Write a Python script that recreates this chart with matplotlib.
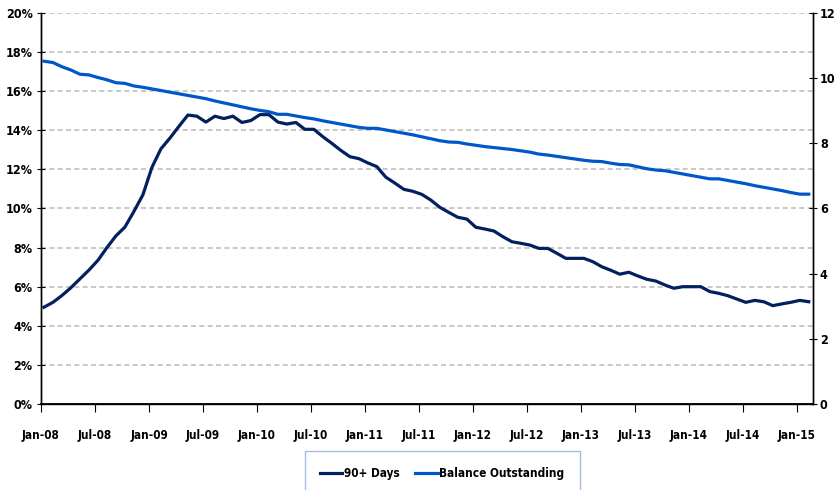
import matplotlib.pyplot as plt
from matplotlib.ticker import FuncFormatter

# monthly data, Jan-08 .. Feb-15
days90 = [4.95, 5.2, 5.55, 5.95, 6.4, 6.85, 7.35, 8.0, 8.6, 9.05, 9.85, 10.7,
          12.1, 13.05, 13.6, 14.2, 14.78, 14.72, 14.42, 14.72, 14.6, 14.72, 14.4, 14.5,
          14.8, 14.8, 14.42, 14.32, 14.4, 14.05, 14.05, 13.67, 13.33, 12.97, 12.65, 12.55,
          12.33, 12.14, 11.6, 11.3, 10.98, 10.88, 10.72, 10.43, 10.06, 9.8, 9.55, 9.46,
          9.04, 8.95, 8.85, 8.56, 8.3, 8.22, 8.13, 7.96, 7.96, 7.71, 7.45, 7.45,
          7.45, 7.28, 7.02, 6.84, 6.64, 6.74, 6.55, 6.38, 6.29, 6.09, 5.92, 6.0,
          6.0, 6.0, 5.75, 5.66, 5.54, 5.37, 5.2, 5.3, 5.23, 5.03, 5.12, 5.2,
          5.3, 5.23]
balance = [10.52, 10.48, 10.35, 10.25, 10.12, 10.1, 10.02, 9.95, 9.86, 9.84, 9.76, 9.72,
           9.67, 9.62, 9.57, 9.52, 9.47, 9.42, 9.37, 9.3, 9.24, 9.18, 9.12, 9.06,
           9.01, 8.97, 8.89, 8.89, 8.84, 8.79, 8.75, 8.69, 8.64, 8.59, 8.54, 8.49,
           8.46, 8.46, 8.41, 8.36, 8.31, 8.26, 8.2, 8.14, 8.08, 8.04, 8.03, 7.98,
           7.94, 7.9, 7.87, 7.84, 7.81, 7.77, 7.73, 7.67, 7.64, 7.6, 7.56, 7.52,
           7.48, 7.45, 7.44, 7.39, 7.35, 7.34, 7.28, 7.22, 7.18, 7.16, 7.11, 7.06,
           7.01, 6.96, 6.91, 6.91, 6.86, 6.81, 6.76, 6.7, 6.65, 6.6, 6.55, 6.49,
           6.44, 6.44]
tick_labels = ['Jan-08', 'Jul-08', 'Jan-09', 'Jul-09', 'Jan-10', 'Jul-10', 'Jan-11', 'Jul-11',
               'Jan-12', 'Jul-12', 'Jan-13', 'Jul-13', 'Jan-14', 'Jul-14', 'Jan-15']

plt.rcParams['font.family'] = ['DejaVu Sans']
plt.rcParams['font.stretch'] = 'condensed'
plt.rcParams['font.weight'] = 'bold'

months = [i + 0.33 for i in range(len(days90))]

fig = plt.figure(figsize=(8.36, 4.9), dpi=100)
ax = fig.add_axes([0.049, 0.1755, 0.9235, 0.798])
ax2 = ax.twinx()

ax.plot(months, days90, color='#002060', lw=2.3, label='90+ Days', zorder=3)
ax2.plot(months, balance, color='#0058C8', lw=2.3, label='Balance Outstanding', zorder=3)

ax.set_xlim(0, 85.8)
ax.set_ylim(0, 20)
ax2.set_ylim(0, 12)
ax.set_yticks(range(0, 21, 2))
ax2.set_yticks(range(0, 13, 2))
ax.yaxis.set_major_formatter(FuncFormatter(lambda v, p: '%d%%' % v))
ax.set_xticks(range(0, 85, 6))
ax.set_xticklabels(tick_labels)

ax.grid(axis='y', color='#BFBFBF', linestyle=(0, (3, 2)), lw=1.2)
ax.set_axisbelow(True)

for a in (ax, ax2):
    a.spines['top'].set_visible(False)
    for s in ('left', 'right', 'bottom'):
        a.spines[s].set_color('black')
        a.spines[s].set_linewidth(1.0)
ax.spines['bottom'].set_linewidth(1.3)

ax.tick_params(axis='x', direction='out', length=6, pad=12, labelsize=8.5, color='black')
ax.tick_params(axis='y', direction='inout', length=6, pad=3, labelsize=9)
ax2.tick_params(axis='y', direction='inout', length=6, pad=2, labelsize=9)

h1, l1 = ax.get_legend_handles_labels()
h2, l2 = ax2.get_legend_handles_labels()
leg = fig.legend(h1 + h2, l1 + l2, loc='upper center', bbox_to_anchor=(0.529, 0.079),
                 ncol=2, frameon=True, fancybox=False, fontsize=8.5,
                 handlelength=1.9, handletextpad=0.15, columnspacing=1.3,
                 borderpad=1.3, borderaxespad=0)
leg.get_frame().set_edgecolor('#8EA9DB')
leg.get_frame().set_linewidth(1.0)

fig.savefig('out.png', dpi=100)
